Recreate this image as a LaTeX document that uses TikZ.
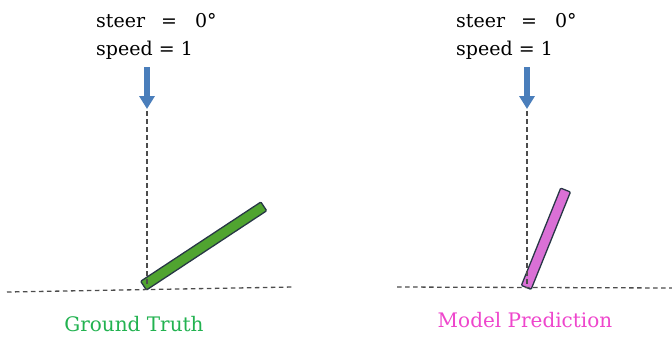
\documentclass[tikz,border=0pt]{standalone}
\usepackage{fontspec}
\setmainfont{DejaVu Serif}
\usetikzlibrary{arrows.meta,positioning}
\definecolor{arrowblue}{RGB}{74,126,187}
\definecolor{bargreen}{RGB}{80,164,48}
\definecolor{barpink}{RGB}{218,112,214}
\definecolor{edgegrey}{RGB}{40,55,70}
\definecolor{gtgreen}{RGB}{34,178,80}
\definecolor{predpink}{RGB}{238,70,204}

\begin{document}
\begin{tikzpicture}[x=1pt,y=-1pt, every node/.style={font=\fontsize{19}{28}\selectfont},
  cmd/.style={align=left,inner sep=0pt,anchor=north west},
  axis/.style={line width=1.3pt,black!70,dash pattern=on 4.5pt off 3.5pt},
  push/.style={-{Triangle[width=15pt,length=13pt]},line width=5.5pt,arrowblue},
  wheel/.style={draw=edgegrey,line width=1.3pt,rounded corners=1pt,inner sep=0pt,
                minimum height=10.5pt,anchor=west},
  caption/.style={font=\fontsize{20}{24}\selectfont}]
\useasboundingbox (0,0) rectangle (672,338);

% left: ground truth
\node[cmd] (gtcmd) at (96,13) {steer\hspace{16pt}=\hspace{18pt}0°\\speed = 1};
\coordinate (gtin)    at (147,67);
\coordinate (gtdown)  at (147,109);
\coordinate (gttop)   at (147,111);
\coordinate (gtpivot) at (147,287);
\coordinate (gtleft)  at (7,292);
\coordinate (gtright) at (293,287);
\node[wheel,fill=bargreen,minimum width=144pt,rotate=33.4] (gtbar) at (143,286) {};
\node[caption,text=gtgreen] (gtlab) at (134,324) {Ground Truth};

% right: model prediction
\node[cmd] (mpcmd) at (456,13) {steer\hspace{16pt}=\hspace{18pt}0°\\speed = 1};
\coordinate (mpin)    at (527,67);
\coordinate (mpdown)  at (527,109);
\coordinate (mptop)   at (527,111);
\coordinate (mppivot) at (527,287);
\coordinate (mpleft)  at (397,287);
\coordinate (mpright) at (672,288);
\node[wheel,fill=barpink,minimum width=105pt,rotate=68] (mpbar) at (526,288) {};
\node[caption,text=predpink] (mplab) at (525,320) {Model Prediction};

\foreach \a/\b in {gttop/gtpivot,gtleft/gtright,mptop/mppivot,mpleft/mpright}
  \draw[axis] (\a) -- (\b);
\foreach \a/\b in {gtin/gtdown,mpin/mpdown} \draw[push] (\a) -- (\b);
\end{tikzpicture}
\end{document}
